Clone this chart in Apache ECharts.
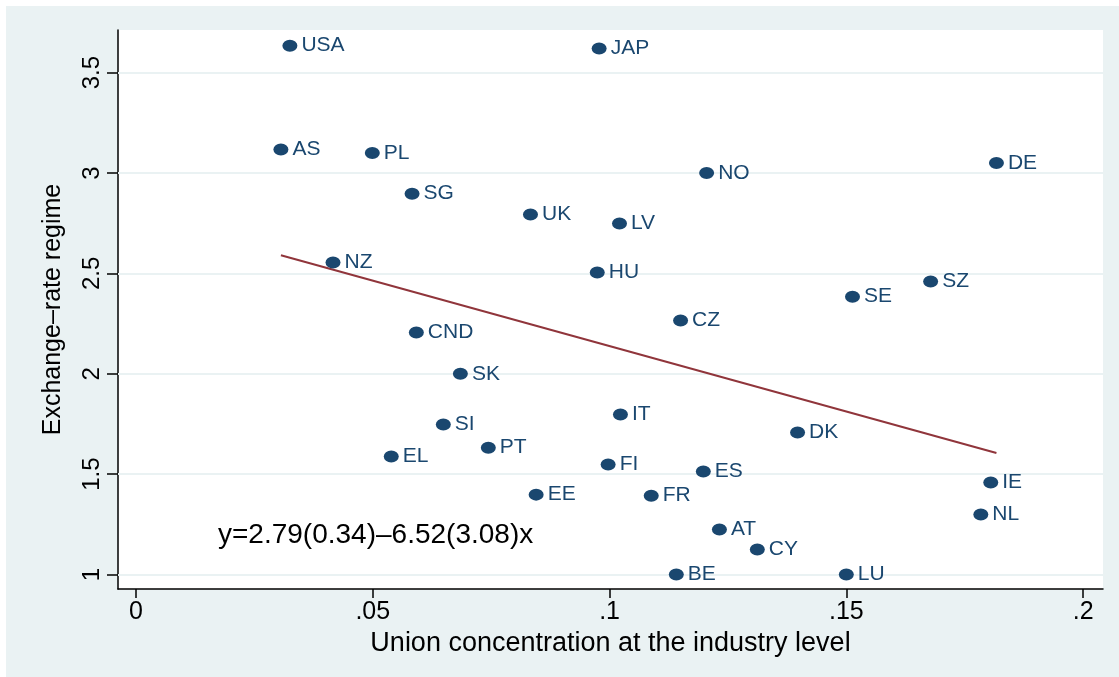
<!DOCTYPE html>
<html>
<head>
<meta charset="utf-8">
<script src="https://cdn.jsdelivr.net/npm/echarts@6/dist/echarts.min.js"></script>
<style>
  html, body { margin: 0; padding: 0; background: #ffffff; }
  #frame { position: absolute; left: 6px; top: 6px; width: 1113px; height: 671px; background: #EAF2F3; }
  #chart { position: absolute; left: 0; top: 0; width: 1119px; height: 677px; }
</style>
</head>
<body>
<div id="frame"></div>
<div id="chart"></div>
<script>
// Country labels
const countries = ['USA','JAP','AS','PL','NO','DE','SG','UK','LV','NZ','HU','SZ','SE','CZ','CND','SK','IT','SI','DK','PT','EL','FI','ES','IE','EE','FR','NL','AT','CY','BE','LU'];
// Union concentration at the industry level (x)
const unionConc = [0.0325,0.0978,0.0306,0.0499,0.1205,0.1817,0.0583,0.0833,0.1021,0.0416,0.0974,0.1678,0.1513,0.1150,0.0592,0.0685,0.1023,0.0649,0.1397,0.0744,0.0539,0.0997,0.1198,0.1805,0.0845,0.1088,0.1784,0.1232,0.1312,0.1141,0.1500];
// Exchange-rate regime (y)
const exRegime = [3.634,3.620,3.117,3.100,3.000,3.050,2.897,2.793,2.748,2.554,2.504,2.459,2.384,2.265,2.205,2.000,1.797,1.747,1.707,1.632,1.588,1.548,1.513,1.458,1.398,1.393,1.299,1.224,1.125,1.000,1.000];
// Fitted line endpoints (x, y)
const fitX = [0.0306, 0.1817];
const fitY = [2.590, 1.605];
// Tick values
const xTicks = [0, 0.05, 0.1, 0.15, 0.2];
const yTicks = [1, 1.5, 2, 2.5, 3, 3.5];
const equationText = 'y=2.79(0.34)\u20136.52(3.08)x';

const FONT = '"Liberation Sans", Arial, Helvetica, sans-serif';
const NAVY = '#1A476F';

function fmtX(v) {
  if (v === 0) return '0';
  return String(v).replace(/^0\./, '.');
}

const chart = echarts.init(document.getElementById('chart'), null, { renderer: 'canvas' });

const option = {
  backgroundColor: 'transparent',
  animation: false,
  grid: { left: 118, right: 16, top: 30, bottom: 88, show: true, backgroundColor: '#ffffff', borderWidth: 0 },
  xAxis: {
    type: 'value',
    min: -0.0038,
    max: 0.2042,
    name: 'Union concentration at the industry level',
    nameLocation: 'middle',
    nameGap: 35,
    nameTextStyle: { fontFamily: FONT, fontSize: 27, color: '#000' },
    axisLine: { show: true, onZero: false, lineStyle: { color: '#000', width: 1.5 } },
    axisTick: { show: true, length: 9, customValues: xTicks, lineStyle: { color: '#000', width: 1.5 } },
    axisLabel: { customValues: xTicks, formatter: fmtX, fontFamily: FONT, fontSize: 25, color: '#000', margin: 11 },
    splitLine: { show: false }
  },
  yAxis: {
    type: 'value',
    min: 0.928,
    max: 3.712,
    name: 'Exchange\u2013rate regime',
    nameLocation: 'middle',
    nameGap: 52,
    nameRotate: 90,
    nameTextStyle: { fontFamily: FONT, fontSize: 25, color: '#000' },
    axisLine: { show: true, onZero: false, lineStyle: { color: '#000', width: 1.5 } },
    axisTick: { show: true, length: 11, customValues: yTicks, lineStyle: { color: '#000', width: 1.5 } },
    axisLabel: { customValues: yTicks, rotate: 90, fontFamily: FONT, fontSize: 24, color: '#000', margin: 14 },
    splitLine: { show: false }
  },
  graphic: [
    {
      type: 'text',
      left: 218,
      top: 521,
      z: 10,
      style: { text: equationText, fontFamily: FONT, fontSize: 28, fill: '#000' }
    }
  ],
  series: [
    {
      type: 'line',
      silent: true,
      symbol: 'none',
      data: [],
      markLine: {
        silent: true,
        symbol: 'none',
        z: 1,
        zlevel: 0,
        label: { show: false },
        lineStyle: { color: '#EAF2F3', width: 2, type: 'solid' },
        data: yTicks.map(v => ({ yAxis: v }))
      },
      z: 1
    },
    {
      type: 'line',
      silent: true,
      symbol: 'none',
      data: fitX.map((x, i) => [x, fitY[i]]),
      lineStyle: { color: '#90353B', width: 2 },
      z: 3
    },
    {
      type: 'scatter',
      symbol: 'circle',
      symbolSize: [15, 12],
      itemStyle: { color: NAVY, opacity: 1 },
      data: unionConc.map((x, i) => ({ value: [x, exRegime[i]], name: countries[i] })),
      label: {
        show: true,
        position: 'right',
        distance: 4,
        formatter: p => p.name,
        fontFamily: FONT,
        fontSize: 21,
        color: NAVY
      },
      labelLayout: { hideOverlap: false },
      z: 4
    }
  ]
};

chart.setOption(option);
</script>
</body>
</html>
